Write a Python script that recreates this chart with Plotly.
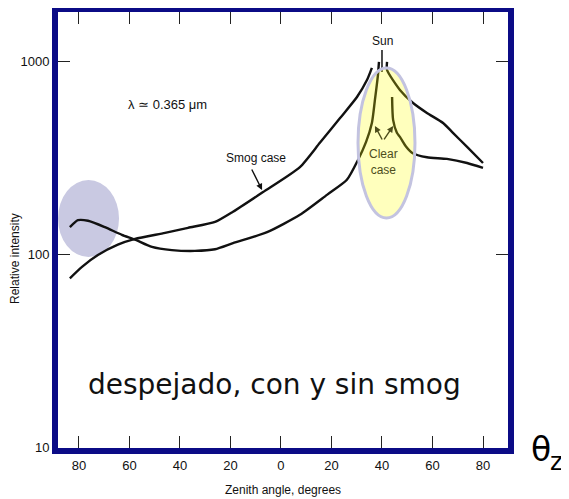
import plotly.graph_objects as go

# Zenith angle (negative = left side of the horizon/zenith plot), relative intensity
smog_left_x = [-83.6, -78.8, -72.5, -64.6, -57.8, -45.9, -36.8, -26.1, -19.0, -7.1, 7.5, 15.4, 23.4, 30.1, 34.1, 36.0]
smog_left_y = [75, 86, 99, 112, 120, 129, 137, 147, 166, 210, 283, 378, 508, 653, 802, 925]
smog_right_x = [42.0, 42.0, 47.1, 52.3, 57.8, 64.2, 68.1, 73.7, 80.0]
smog_right_y = [993, 902, 711, 608, 540, 479, 426, 360, 297]

clear_left_x = [-83.6, -80.4, -76.4, -69.7, -63.0, -57.8, -51.1, -43.2, -34.1, -26.1, -19.0, -5.5, 7.5, 18.2, 26.1, 30.5, 33.7, 36.0, 37.2, 38.4, 38.8]
clear_left_y = [138, 150, 149, 138, 126, 119, 109, 105, 104, 106, 114, 130, 160, 203, 243, 308, 382, 479, 631, 849, 993]
clear_right_x = [44.0, 44.4, 45.9, 47.1, 49.5, 52.0, 57.8, 65.7, 73.7, 80.0]
clear_right_y = [653, 497, 426, 406, 362, 335, 318, 312, 297, 280]

sun_x = [40, 40]
sun_y = [1146, 881]

x_tickvals = [-80, -60, -40, -20, 0, 20, 40, 60, 80]
x_ticktext = ["80", "60", "40", "20", "0", "20", "40", "60", "80"]
y_tickvals = [10, 100, 1000]
y_ticktext = ["10", "100", "1000"]

LINE = dict(color="#111111", width=2.4, shape="spline", smoothing=0.6)
OLIVE = "#4d4d1c"
NAVY = "#0b0b86"
FONT = "Liberation Sans, Arial, sans-serif"

fig = go.Figure()
for xs, ys in [(smog_left_x, smog_left_y), (smog_right_x, smog_right_y),
               (clear_left_x, clear_left_y), (clear_right_x, clear_right_y)]:
    fig.add_trace(go.Scatter(x=xs, y=ys, mode="lines", line=LINE, hoverinfo="skip", showlegend=False))
fig.add_trace(go.Scatter(x=sun_x, y=sun_y, mode="lines", line=dict(color="#111111", width=1.5),
                         hoverinfo="skip", showlegend=False))

shapes = [
    dict(type="circle", xref="paper", yref="paper", x0=0.0, x1=0.1356, y0=0.438, y1=0.6147,
         fillcolor="#c9c9e2", line=dict(width=0), layer="below"),
    dict(type="circle", xref="paper", yref="paper", x0=0.6667, x1=0.7933, y0=0.5275, y1=0.8716,
         fillcolor="rgba(255,255,0,0.26)", line=dict(color="#c3c3e0", width=3), layer="above"),
]

ann = []
def txt(text, x, y, size, color="#111111", family=FONT, **kw):
    ann.append(dict(text=text, x=x, y=y, xref="paper", yref="paper", showarrow=False,
                    font=dict(size=size, color=color, family=family), xanchor="center", yanchor="middle", **kw))

txt("λ ≃ 0.365 μm", 0.2444, 0.787, 13)
txt("Smog case", 0.44, 0.665, 12)
txt("Sun", 0.7222, 0.9335, 12)
txt("Clear<br>case", 0.7244, 0.657, 12, color=OLIVE)
txt("Relative intensity", -0.0956, 0.4358, 12, textangle=-90)
txt("Zenith angle, degrees", 0.5, -0.0963, 12)
txt("despejado, con y sin smog", 0.482, 0.1445, 28, family="DejaVu Sans")
txt("θ", 1.0733, -0.0023, 33, color="#000000", family="DejaVu Sans")
txt("z", 1.107, -0.033, 24, color="#000000", family="DejaVu Sans")

def arrow(x, y, ax, ay, color, head=2):
    ann.append(dict(text="", x=x, y=y, xref="x", yref="y", ax=ax, ay=ay, showarrow=True,
                    arrowhead=head, arrowsize=0.9, arrowwidth=1.4, arrowcolor=color, standoff=0))

arrow(-7.5, 2.333, -11, -22, "#111111")
arrow(37.2, 2.665, 8, 15, OLIVE)
arrow(44.4, 2.665, -10, 15, OLIVE)

# page body has an 8px margin, so the figure is shrunk and margins shifted accordingly
fig.update_layout(
    width=561, height=491,
    margin=dict(l=50, r=61, t=4, b=51, autoexpand=False),
    paper_bgcolor="white", plot_bgcolor="white",
    shapes=shapes, annotations=ann, showlegend=False,
    xaxis=dict(range=[-88.3, 89.9], tickvals=x_tickvals, ticktext=x_ticktext,
               ticks="inside", ticklen=12, tickwidth=1.3, tickcolor="#222222",
               showline=True, linecolor=NAVY, linewidth=6, mirror="ticks",
               showgrid=False, zeroline=False, automargin=False,
               tickfont=dict(size=13, color="#111111", family=FONT)),
    yaxis=dict(type="log", range=[0.9948, 3.256], tickvals=y_tickvals, ticktext=y_ticktext,
               ticks="inside", ticklen=12, tickwidth=1.3, tickcolor="#222222",
               showline=True, linecolor=NAVY, linewidth=6, mirror="ticks",
               showgrid=False, zeroline=False, automargin=False,
               tickfont=dict(size=13, color="#111111", family=FONT)),
)

fig.write_html("out.html")
